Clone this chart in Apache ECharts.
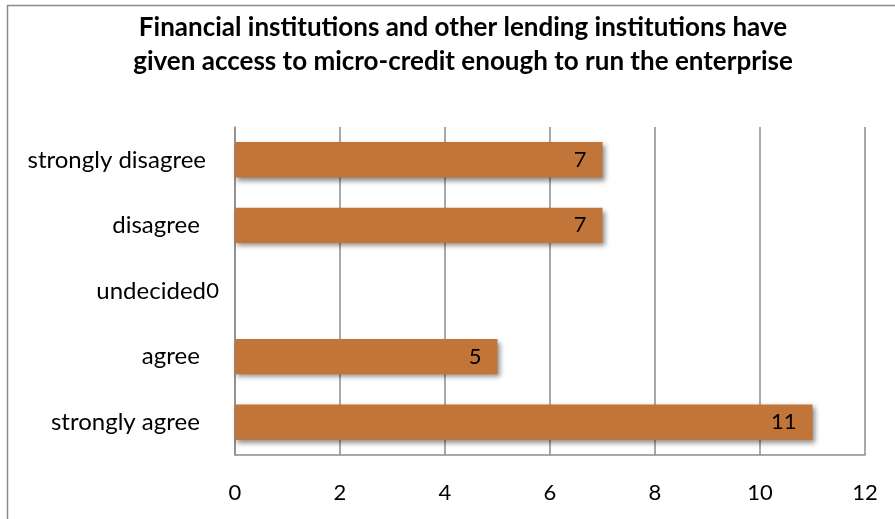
<!DOCTYPE html>
<html>
<head>
<meta charset="utf-8">
<script src="https://cdn.jsdelivr.net/npm/echarts@6/dist/echarts.min.js"></script>
<style>
  html, body { margin: 0; padding: 0; background: #ffffff; }
  #chart { width: 895px; height: 519px; }
</style>
</head>
<body>
<div id="chart"></div>
<script>
// Survey responses, listed bottom-to-top as the category axis draws them
const categories = ['strongly agree ', 'agree ', 'undecided', 'disagree ', 'strongly disagree'];
const responses = [11, 5, 0, 7, 7];
const xTicks = { min: 0, max: 12, interval: 2 };
const titleLines = [
  'Financial institutions and other lending institutions have',
  'given access to micro-credit enough to run the enterprise'
];

const FONT = 'Lato, "Open Sans", sans-serif';
const GRID_COLOR = '#8c8c8c';

const chart = echarts.init(document.getElementById('chart'), null, { renderer: 'canvas' });

chart.setOption({
  backgroundColor: '#ffffff',
  animation: false,
  title: {
    text: titleLines.join('\n'),
    left: 458,
    top: 6,
    textAlign: 'center',
    textStyle: {
      fontFamily: FONT,
      fontWeight: 'bold',
      fontSize: 26,
      lineHeight: 34,
      color: '#000000'
    }
  },
  graphic: [{
    type: 'rect',
    shape: { x: 7.5, y: 5.5, width: 1000, height: 1000 },
    style: { fill: 'none', stroke: '#8a8a8a', lineWidth: 1.5 },
    silent: true,
    z: -1
  }],
  grid: { left: 235, right: 30, top: 127, bottom: 64, containLabel: false },
  xAxis: {
    type: 'value',
    min: xTicks.min,
    max: xTicks.max,
    interval: xTicks.interval,
    axisLine: { show: true, lineStyle: { color: GRID_COLOR, width: 1.5 } },
    axisTick: { show: false },
    axisLabel: {
      margin: 27,
      fontFamily: FONT,
      fontSize: 22,
      color: '#000000'
    },
    splitLine: { show: true, lineStyle: { color: GRID_COLOR, width: 1.5 } }
  },
  yAxis: {
    type: 'category',
    data: categories,
    axisLine: { show: true, lineStyle: { color: GRID_COLOR, width: 1.5 } },
    axisTick: { show: false },
    axisLabel: {
      margin: 29,
      fontFamily: FONT,
      fontSize: 24,
      color: '#000000'
    }
  },
  series: [{
    type: 'bar',
    data: responses,
    barCategoryGap: '46%',
    itemStyle: {
      color: '#C27538',
      shadowColor: 'rgba(0,0,0,0.45)',
      shadowBlur: 5,
      shadowOffsetX: 2,
      shadowOffsetY: 3
    },
    label: {
      show: true,
      position: 'insideRight',
      distance: 16,
      fontFamily: FONT,
      fontSize: 22,
      color: '#000000'
    }
  }]
});
</script>
</body>
</html>
